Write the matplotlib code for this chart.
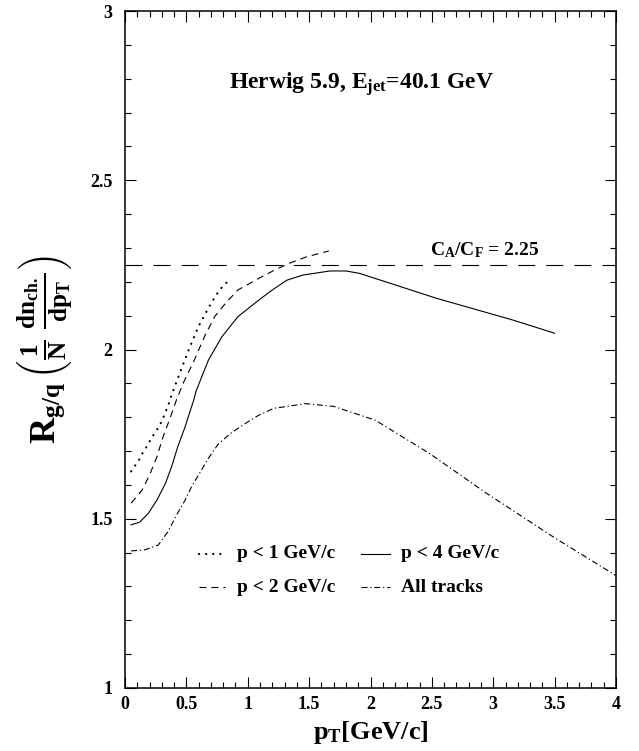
import matplotlib
matplotlib.use("Agg")
import matplotlib.pyplot as plt
from matplotlib.ticker import MultipleLocator

plt.rcParams['font.family'] = ['Liberation Serif', 'DejaVu Serif']
plt.rcParams['font.weight'] = 'bold'
plt.rcParams['mathtext.fontset'] = 'custom'
plt.rcParams['mathtext.rm'] = 'Liberation Serif:bold'
plt.rcParams['mathtext.bf'] = 'Liberation Serif:bold'
plt.rcParams['mathtext.it'] = 'Liberation Serif:bold'
plt.rcParams['lines.scale_dashes'] = False

# p < 1 GeV/c
pt_p1 = [0.05, 0.11, 0.14, 0.18, 0.21, 0.24, 0.28, 0.31, 0.36, 0.38, 0.45, 0.52, 0.60, 0.70, 0.77, 0.86]
r_p1 = [1.640, 1.671, 1.692, 1.715, 1.735, 1.752, 1.774, 1.797, 1.843, 1.866, 1.934, 2.000, 2.069, 2.136, 2.176, 2.210]

# p < 2 GeV/c
pt_p2 = [0.05, 0.14, 0.20, 0.26, 0.31, 0.37, 0.42, 0.48, 0.56, 0.65, 0.73, 0.82, 0.92, 1.09, 1.22, 1.34, 1.48, 1.66]
r_p2 = [1.546, 1.585, 1.629, 1.683, 1.742, 1.800, 1.852, 1.905, 1.965, 2.040, 2.097, 2.137, 2.176, 2.210, 2.235, 2.255, 2.274, 2.291]

# p < 4 GeV/c
pt_p4 = [0.05, 0.12, 0.19, 0.26, 0.33, 0.38, 0.43, 0.49, 0.56, 0.58, 0.68, 0.79, 0.92, 1.09, 1.20, 1.32, 1.45, 1.67, 1.80, 1.91, 2.54, 3.16, 3.50]
r_p4 = [1.482, 1.490, 1.516, 1.555, 1.605, 1.654, 1.713, 1.772, 1.851, 1.878, 1.969, 2.038, 2.097, 2.146, 2.176, 2.205, 2.220, 2.232, 2.232, 2.225, 2.151, 2.087, 2.048]

# All tracks
pt_all = [0.05, 0.16, 0.27, 0.35, 0.42, 0.49, 0.54, 0.61, 0.68, 0.76, 0.86, 0.96, 1.09, 1.21, 1.47, 1.70, 2.04, 2.48, 2.93, 3.49, 4.00]
r_all = [1.405, 1.408, 1.422, 1.462, 1.511, 1.555, 1.593, 1.636, 1.679, 1.721, 1.752, 1.777, 1.806, 1.826, 1.840, 1.832, 1.791, 1.693, 1.579, 1.446, 1.332]

ca_cf = 2.25
labels = ["p < 1 GeV/c", "p < 2 GeV/c", "p < 4 GeV/c", "All tracks"]

fig = plt.figure(figsize=(6.39, 7.51), dpi=100)
ax = fig.add_axes([125 / 639, 63 / 751, 491 / 639, 677 / 751])

styles = {
    'dot': dict(color='black', lw=1.6, dashes=(0.1, 5.0), dash_capstyle='round'),
    'dash': dict(color='black', lw=0.8, dashes=(5.0, 3.6)),
    'solid': dict(color='black', lw=0.8, linestyle='-'),
    'dashdot': dict(color='black', lw=0.8, dashes=(4.3, 2.0, 0.9, 2.0)),
}

ax.plot(pt_p1, r_p1, **styles['dot'])
ax.plot(pt_p2, r_p2, **styles['dash'])
ax.plot(pt_p4, r_p4, **styles['solid'])
ax.plot(pt_all, r_all, **styles['dashdot'])
ax.axhline(ca_cf, color='black', lw=0.8, dashes=(12.2, 8.0))

ax.set_xlim(0, 4)
ax.set_ylim(1, 3)

ax.xaxis.set_major_locator(MultipleLocator(0.5))
ax.xaxis.set_minor_locator(MultipleLocator(0.1))
ax.yaxis.set_major_locator(MultipleLocator(0.5))
ax.yaxis.set_minor_locator(MultipleLocator(0.1))
ax.tick_params(which='both', direction='in', top=True, right=True, width=0.8)
ax.tick_params(which='major', length=8)
ax.tick_params(which='minor', length=4.5)
ax.tick_params(axis='x', which='major', pad=6)
ax.tick_params(axis='y', which='major', pad=9)
for lab in ax.get_xticklabels() + ax.get_yticklabels():
    lab.set_fontsize(13)
    lab.set_fontweight('bold')
ax.xaxis.set_major_formatter(plt.FuncFormatter(lambda v, p: f"{v:g}"))
ax.yaxis.set_major_formatter(plt.FuncFormatter(lambda v, p: f"{v:g}"))
for s in ax.spines.values():
    s.set_linewidth(1.1)

ax.set_xlabel(r'$\mathbf{p_T}$[GeV/c]', fontsize=19, fontweight='bold', labelpad=4)
ax.set_ylabel(r'$\mathbf{R_{g/q}}\,\left(\frac{\mathbf{1}}{\mathbf{N}}\;\frac{\mathbf{dn_{ch.}}}{\mathbf{dp_T}}\right)$',
              fontsize=26, fontweight='bold', labelpad=10)

ax.text(1.93, 2.77, r'Herwig 5.9, E$_{\mathbf{jet}}$=40.1 GeV', fontsize=17,
        fontweight='bold', ha='center', va='baseline')
ax.text(2.93, 2.279, r'C$_{\mathbf{A}}$/C$_{\mathbf{F}}$ = 2.25', fontsize=14,
        fontweight='bold', ha='center', va='baseline')

# legend, two columns
key_cols = [(0.604, 0.814, 0.912), (1.923, 2.161, 2.246)]
key_rows = [1.396, 1.298]
order = [('dot', 0, 0), ('dash', 0, 1), ('solid', 1, 0), ('dashdot', 1, 1)]
for (style, c, r), text in zip(order, labels):
    x0, x1, xt = key_cols[c]
    ax.plot([x0, x1], [key_rows[r], key_rows[r]], **styles[style])
    ax.text(xt, key_rows[r], text, fontsize=14, fontweight='bold', ha='left', va='center')

fig.savefig('out.png', dpi=100)
